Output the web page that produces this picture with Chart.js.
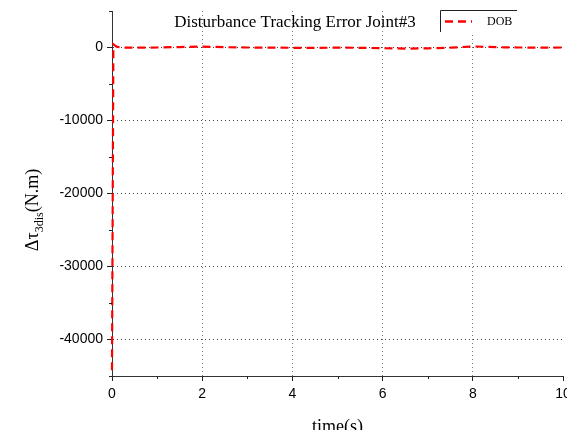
<!DOCTYPE html>
<html>
<head>
<meta charset="utf-8">
<script src="https://cdn.jsdelivr.net/npm/chart.js@4/dist/chart.umd.min.js"></script>
<style>
html,body{margin:0;padding:0;background:#fff;overflow:hidden;}
#wrap{width:567px;height:430px;position:relative;}
</style>
</head>
<body>
<div id="wrap"><canvas id="c" width="567" height="430"></canvas></div>
<script>
// ---- data ----
const timeValues = [0, 0.03, 0.06, 0.1, 0.2, 0.5, 1, 1.5, 2, 2.5, 3, 3.5, 4, 4.5, 5, 5.5, 6, 6.5, 7, 7.5, 8, 8.3, 8.7, 9, 9.5, 10];
const dobError   = [-44200, 450, 300, 120, 0, -30, 0, 60, 120, 40, 0, -20, -40, -60, -10, -40, -100, -150, -120, -30, 150, 90, 20, 0, -10, 0];
const xTicks = [0, 2, 4, 6, 8, 10];
const yTicks = [-40000, -30000, -20000, -10000, 0];
const xMinorTicks = [1, 3, 5, 7, 9];
const yMinorTicks = [-45000, -35000, -25000, -15000, -5000, 5000];
const chartTitle = 'Disturbance Tracking Error Joint#3';
const seriesName = 'DOB';
const xTitle = 'time(s)';

const serif = '"Liberation Serif", "DejaVu Serif", serif';
const sans = '"Liberation Sans", Arial, sans-serif';

const extras = {
  id: 'extras',
  afterDraw(chart) {
    const ctx = chart.ctx;
    const xs = chart.scales.x, ys = chart.scales.y;
    const ca = chart.chartArea;
    ctx.save();
    // minor ticks
    ctx.strokeStyle = '#222';
    ctx.lineWidth = 1;
    ctx.beginPath();
    yMinorTicks.forEach(v => {
      const y = Math.round(ys.getPixelForValue(v)) + 0.5;
      ctx.moveTo(ca.left - 3, y); ctx.lineTo(ca.left, y);
    });
    xMinorTicks.forEach(v => {
      const x = Math.round(xs.getPixelForValue(v)) + 0.5;
      ctx.moveTo(x, ca.bottom); ctx.lineTo(x, ca.bottom + 3);
    });
    ctx.stroke();
    // title
    ctx.fillStyle = '#000';
    ctx.font = '17px ' + serif;
    ctx.textAlign = 'center';
    ctx.textBaseline = 'alphabetic';
    ctx.fillText(chartTitle, 295, 27);
    // x title
    ctx.font = '18px ' + serif;
    ctx.fillText(xTitle, (ca.left + ca.right) / 2, 432);
    // legend
    ctx.fillStyle = '#fff';
    ctx.fillRect(441, 11, 76, 21);
    ctx.strokeStyle = '#222';
    ctx.lineWidth = 1;
    ctx.beginPath();
    ctx.moveTo(440.5, 32); ctx.lineTo(440.5, 10.5); ctx.lineTo(517, 10.5);
    ctx.stroke();
    ctx.strokeStyle = '#ff0000';
    ctx.lineWidth = 2.5;
    ctx.setLineDash([8, 5]);
    ctx.beginPath();
    ctx.moveTo(445, 21.5); ctx.lineTo(472, 21.5);
    ctx.stroke();
    ctx.setLineDash([]);
    ctx.font = '12px ' + serif;
    ctx.textAlign = 'left';
    ctx.textBaseline = 'middle';
    ctx.fillStyle = '#000';
    ctx.fillText(seriesName, 487, 22);
    // y title with subscript
    ctx.translate(33, 210);
    ctx.rotate(-Math.PI / 2);
    const main1 = 'Δτ', sub = '3dis', main2 = '(N.m)';
    ctx.font = '18px ' + serif;
    const w1 = ctx.measureText(main1).width;
    const w3 = ctx.measureText(main2).width;
    ctx.font = '12px ' + serif;
    const w2 = ctx.measureText(sub).width;
    let x0 = -(w1 + w2 + w3) / 2;
    ctx.textBaseline = 'alphabetic';
    ctx.font = '18px ' + serif;
    ctx.fillText(main1, x0, 5);
    ctx.font = '12px ' + serif;
    ctx.fillText(sub, x0 + w1, 10);
    ctx.font = '18px ' + serif;
    ctx.fillText(main2, x0 + w1 + w2, 5);
    ctx.restore();
  }
};

new Chart(document.getElementById('c'), {
  type: 'line',
  data: {
    datasets: [{
      label: seriesName,
      data: timeValues.map((t, i) => ({x: t, y: dobError[i]})),
      borderColor: '#ff0000',
      borderWidth: 2.2,
      borderDash: [8, 5],
      pointRadius: 0,
      fill: false,
      tension: 0,
      clip: 6
    }]
  },
  options: {
    responsive: false,
    animation: false,
    devicePixelRatio: 1,
    layout: {padding: {left: 0, right: 4, top: 11, bottom: 0}},
    plugins: {legend: {display: false}, title: {display: false}, tooltip: {enabled: false}},
    scales: {
      x: {
        type: 'linear',
        min: 0, max: 10,
        afterBuildTicks: s => { s.ticks = xTicks.map(v => ({value: v})); },
        afterFit: s => { s.height = 54; s.paddingLeft = 0; s.paddingRight = 0; },
        border: {color: '#333', width: 1, dash: [1, 3]},
        grid: {
          color: c => (c.tick && (c.tick.value === 0 || c.tick.value === 10)) ? 'rgba(0,0,0,0)' : '#777',
          lineWidth: 1,
          drawTicks: true,
          tickLength: 5,
          tickColor: '#222',
          tickBorderDash: [],
          tickWidth: 1
        },
        ticks: {
          color: '#000',
          font: {family: sans, size: 14},
          padding: 5,
          maxRotation: 0,
          autoSkip: false,
          callback: v => String(v)
        }
      },
      y: {
        type: 'linear',
        min: -45000, max: 5000,
        afterBuildTicks: s => { s.ticks = yTicks.map(v => ({value: v})); },
        afterFit: s => { s.width = 112; s.paddingTop = 0; s.paddingBottom = 0; },
        border: {color: '#333', width: 1, dash: [1, 3]},
        grid: {
          color: '#444',
          lineWidth: 1,
          drawTicks: true,
          tickLength: 5,
          tickColor: '#222',
          tickBorderDash: [],
          tickWidth: 1
        },
        ticks: {
          color: '#000',
          font: {family: sans, size: 14},
          padding: 4,
          autoSkip: false,
          callback: v => String(v)
        }
      }
    }
  },
  plugins: [extras]
});
</script>
</body>
</html>
